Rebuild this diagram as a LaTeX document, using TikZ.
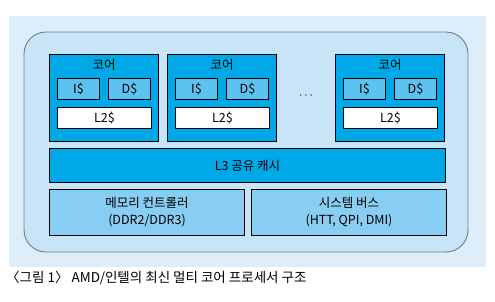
\documentclass[tikz,border=0pt]{standalone}
\usepackage{fontspec}
\setmainfont{Noto Sans CJK KR}
\definecolor{panelbg}{HTML}{DDEEFA}
\definecolor{chipbg}{HTML}{C8E5F8}
\definecolor{chipline}{HTML}{6F7B88}
\definecolor{corefill}{HTML}{00A8E8}
\definecolor{l1fill}{HTML}{5CC3F0}
\definecolor{iofill}{HTML}{88CDF2}
\begin{document}
\begin{tikzpicture}[x=1pt,y=-1pt,line join=round,
    txt/.style={font=\fontsize{12.5}{14}\selectfont},
    box/.style={txt,draw=black,line width=1pt,inner sep=0pt,anchor=north west},
    corebox/.style={box,fill=corefill,minimum width=109pt,minimum height=87pt},
    l1box/.style={box,fill=l1fill,minimum width=42pt,minimum height=21pt},
    l2box/.style={box,fill=white,minimum width=94pt,minimum height=21pt},
    iobox/.style={box,fill=iofill,minimum width=195pt,minimum height=46pt,align=center}]
  \useasboundingbox (0,0) rectangle (495,301);
  \fill[panelbg] (9,16) rectangle (486,267);
  \draw[chipline,fill=chipbg,line width=0.9pt,rounded corners=22pt] (24,32) rectangle (468,252);
  % cores
  \node[corebox] (core1) at (49,54) {};
  \node[corebox] (core2) at (167,54) {};
  \node[corebox] (core3) at (335,54) {};
  \node[txt] (t1) at ([yshift=-11pt]core1.north) {코어};
  \node[txt] (t2) at ([yshift=-11pt]core2.north) {코어};
  \node[txt] (t3) at ([yshift=-11pt]core3.north) {코어};
  \node[l1box] (i1) at ([xshift=8pt,yshift=-24pt]core1.north west) {I\$};
  \node[l1box] (d1) at ([xshift=59pt,yshift=-24pt]core1.north west) {D\$};
  \node[l2box] (l21) at ([xshift=8pt,yshift=-53pt]core1.north west) {L2\$};
  \node[l1box] (i2) at ([xshift=8pt,yshift=-24pt]core2.north west) {I\$};
  \node[l1box] (d2) at ([xshift=59pt,yshift=-24pt]core2.north west) {D\$};
  \node[l2box] (l22) at ([xshift=8pt,yshift=-53pt]core2.north west) {L2\$};
  \node[l1box] (i3) at ([xshift=8pt,yshift=-24pt]core3.north west) {I\$};
  \node[l1box] (d3) at ([xshift=59pt,yshift=-24pt]core3.north west) {D\$};
  \node[l2box] (l23) at ([xshift=8pt,yshift=-53pt]core3.north west) {L2\$};
  \node[txt] (dots) at (306,96) {$\cdots$};
  % shared parts
  \node[box,fill=corefill,minimum width=396pt,minimum height=34pt] (l3) at (49,148) {L3 공유 캐시};
  \node[iobox] (mem) at (49,189) {메모리 컨트롤러\\[3pt](DDR2/DDR3)};
  \node[iobox] (bus) at (251,189) {시스템 버스\\[3pt](HTT, QPI, DMI)};
  \node[anchor=west,inner sep=0pt,font=\fontsize{13.5}{15}\selectfont] (cap) at (6,278) {〈그림 1〉 AMD/인텔의 최신 멀티 코어 프로세서 구조};
\end{tikzpicture}
\end{document}
